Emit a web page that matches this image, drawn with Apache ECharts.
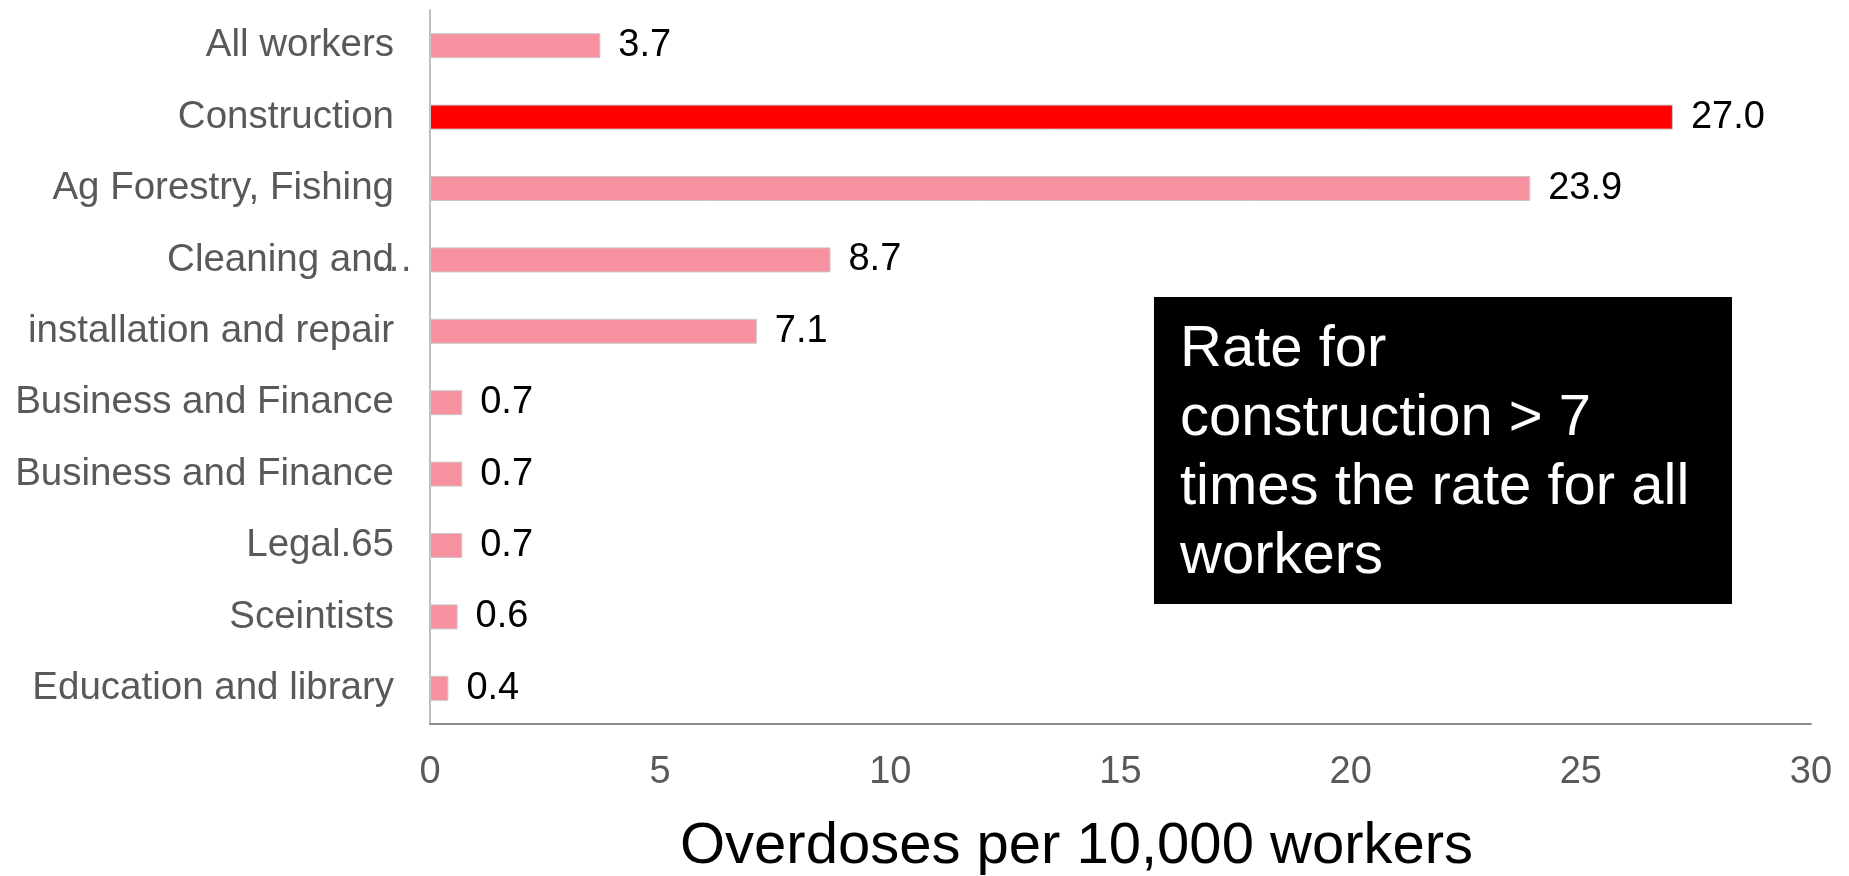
<!DOCTYPE html>
<html>
<head>
<meta charset="utf-8">
<script src="https://cdn.jsdelivr.net/npm/echarts@6/dist/echarts.min.js"></script>
<style>
  html, body { margin: 0; padding: 0; background: #fff; }
  #chart { width: 1849px; height: 876px; }
</style>
</head>
<body>
<div id="chart"></div>
<script>
// Occupational groups, top to bottom (the two finance rows are separate groups)
const categories = [
  'All workers',
  'Construction',
  'Ag Forestry, Fishing',
  'Cleaning and\u2026',
  'installation and repair',
  'Business and Finance',
  'Business and Finance ',
  'Legal.65',
  'Sceintists',
  'Education and library'
];
// Overdoses per 10,000 workers
const rates = [3.7, 27.0, 23.9, 8.7, 7.1, 0.7, 0.7, 0.7, 0.6, 0.4];
const highlighted = 'Construction';
const xTicks = { min: 0, max: 30, interval: 5 };
const axisTitle = 'Overdoses per 10,000 workers';
const noteLines = ['Rate for', 'construction > 7', 'times the rate for all', 'workers'];

const FONT = '"Liberation Sans", Arial, sans-serif';
const LABEL_COLOR = '#595959';
const LABEL_SIZE = 38.5;
const chart = echarts.init(document.getElementById('chart'));

// Truncated names keep their ellipsis hanging past the label edge
function categoryLabel(v) {
  const name = v.trim();
  if (name.endsWith('\u2026')) {
    return '{n|' + name.slice(0, -1) + '}{h|\u2026}';
  }
  return name;
}

chart.setOption({
  animation: false,
  backgroundColor: '#ffffff',
  grid: { left: 430, right: 38, top: 10, bottom: 152, containLabel: false, outerBoundsMode: 'none' },
  xAxis: {
    type: 'value',
    min: xTicks.min, max: xTicks.max, interval: xTicks.interval,
    axisLine: { show: true, lineStyle: { color: '#8c8c8c', width: 2 } },
    axisTick: { show: false },
    splitLine: { show: false },
    axisLabel: { color: LABEL_COLOR, fontSize: 38, fontFamily: FONT, margin: 30 },
    name: axisTitle,
    nameLocation: 'middle',
    nameGap: 94,
    nameTextStyle: { color: '#000', fontSize: 58, fontFamily: FONT, padding: [0, 88, 0, 0] }
  },
  yAxis: {
    type: 'category',
    inverse: true,
    data: categories,
    axisLine: { show: true, lineStyle: { color: '#bfbfbf', width: 2 } },
    axisTick: { show: false },
    axisLabel: {
      color: LABEL_COLOR, fontSize: LABEL_SIZE, fontFamily: FONT, margin: 36,
      formatter: categoryLabel,
      rich: {
        n: { color: LABEL_COLOR, fontSize: LABEL_SIZE, fontFamily: FONT },
        h: { color: LABEL_COLOR, fontSize: LABEL_SIZE, fontFamily: FONT, width: 0, align: 'left' }
      }
    }
  },
  series: [{
    type: 'bar',
    barWidth: 25,
    data: rates.map((v, i) => ({
      value: v,
      itemStyle: { color: categories[i] === highlighted ? '#ff0000' : '#f7909f' }
    })),
    itemStyle: { borderColor: '#c8c8c8', borderWidth: 1 },
    label: {
      show: true,
      position: 'right',
      distance: 18,
      color: '#000',
      fontSize: 38,
      fontFamily: FONT,
      formatter: p => p.value.toFixed(1)
    }
  }],
  graphic: [{
    type: 'group',
    left: 1154,
    top: 297,
    children: [
      { type: 'rect', shape: { x: 0, y: 0, width: 578, height: 307 }, style: { fill: '#000' } },
      {
        type: 'text',
        x: 26, y: 18,
        style: {
          text: noteLines.join('\n'),
          fill: '#fff',
          font: '58px ' + FONT,
          lineHeight: 69
        }
      }
    ]
  }]
});
</script>
</body>
</html>
